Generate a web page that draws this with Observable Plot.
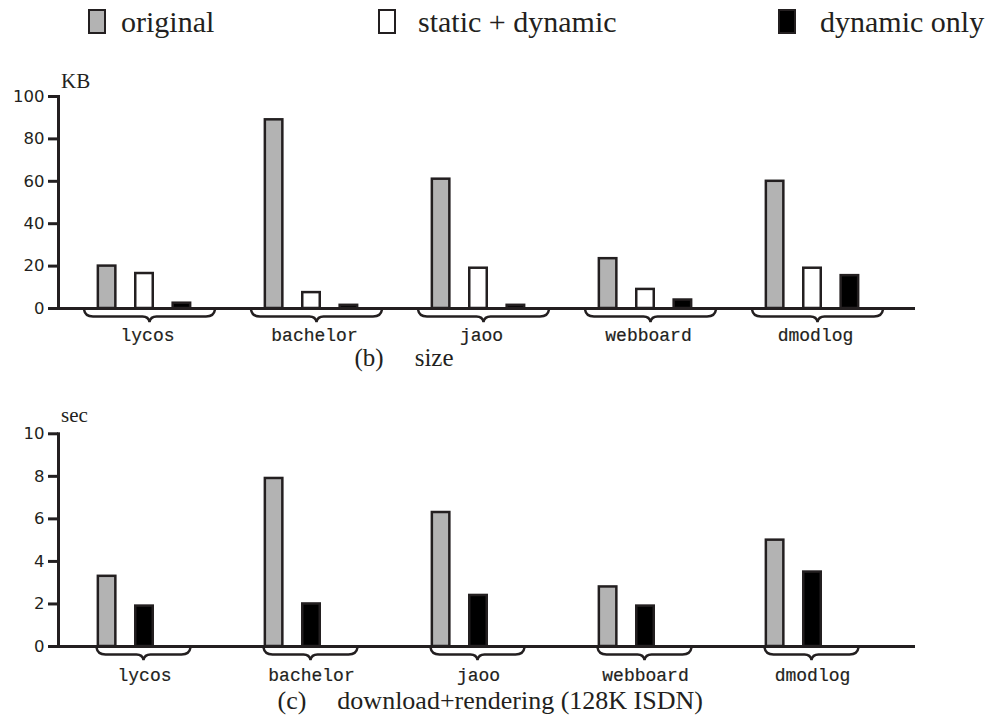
<!DOCTYPE html>
<html>
<head>
<meta charset="utf-8">
<script src="https://cdn.jsdelivr.net/npm/d3@7"></script>
<script src="https://cdn.jsdelivr.net/npm/@observablehq/plot@0.6"></script>
<style>
  html, body { margin: 0; padding: 0; background: #fff; }
  #wrap { position: relative; width: 993px; height: 715px; color: #231f20; }
  .abs { position: absolute; white-space: pre; line-height: 1; }
  .serif { font-family: "Liberation Serif", "DejaVu Serif", serif; }
  .box { position: absolute; width: 18px; height: 25px; box-sizing: border-box; border: 2px solid #231f20; }
  svg { position: absolute; left: 0; }
</style>
</head>
<body>
<div id="wrap"></div>
<script>
// ---- data ----
const groups = ["lycos", "bachelor", "jaoo", "webboard", "dmodlog"];
const seriesNames = ["original", "static + dynamic", "dynamic only"];
// (b) size, KB
const sizeOriginal      = [20, 89, 61, 23.5, 60];
const sizeStaticDynamic = [16.5, 7.5, 19, 9, 19];
const sizeDynamicOnly   = [2.5, 1.5, 1.5, 4, 15.5];
// (c) download+rendering (128K ISDN), sec
const timeOriginal    = [3.3, 7.9, 6.3, 2.8, 5.0];
const timeDynamicOnly = [1.9, 2.0, 2.4, 1.9, 3.5];
const sizeTicks = [0, 20, 40, 60, 80, 100];
const timeTicks = [0, 2, 4, 6, 8, 10];
const captions = ["(b)", "size", "(c)", "download+rendering (128K ISDN)"];
const unitLabels = ["KB", "sec"];

const INK = "#231f20";
const fills = {"original": "#b3b3b3", "static + dynamic": "#ffffff", "dynamic only": "#000000"};

const wrap = document.getElementById("wrap");

function rows(vals) { return groups.map((g, i) => ({group: g, value: vals[i]})); }

function braceSymbol(w) {
  return {
    draw(ctx) {
      const h = w / 2;
      ctx.moveTo(-h, 0);
      ctx.quadraticCurveTo(-h + 1, 7, -h + 9, 7);
      ctx.lineTo(-7, 7);
      ctx.quadraticCurveTo(-1, 7, 0, 12.5);
      ctx.quadraticCurveTo(1, 7, 7, 7);
      ctx.lineTo(h - 9, 7);
      ctx.quadraticCurveTo(h - 1, 7, h, 0);
    }
  };
}

function chart({series, yMax, ticks, height, marginTop, marginBottom, braceW, braceDx, labelDx, labelDy}) {
  const step = 37.4;
  const barMarks = series.map(([name, vals], k) =>
    Plot.barY(rows(vals), {
      x: "group", y: "value",
      fill: fills[name], stroke: INK, strokeWidth: 2.5,
      insetLeft: 1.25, insetRight: 1.25,
      dx: (k - 1) * step
    })
  );
  return Plot.plot({
    width: 993, height,
    marginTop, marginBottom, marginLeft: 58, marginRight: 78,
    style: {color: INK, background: "transparent", overflow: "visible"},
    x: {domain: groups, paddingInner: 0.8805, paddingOuter: 0.5, align: 0.448, axis: null},
    y: {domain: [0, yMax], axis: null},
    marks: [
      ...barMarks,
      Plot.ruleY([0], {stroke: INK, strokeWidth: 3}),
      Plot.frame({anchor: "left", stroke: INK, strokeWidth: 3}),
      Plot.axisY(ticks, {tickSize: 10, tickPadding: 4, stroke: INK, strokeWidth: 3,
        fontSize: 16.5, fontFamily: "DejaVu Sans", label: null}),
      Plot.dot(groups, {x: d => d, y: () => 0, symbol: braceSymbol(braceW), r: 5,
        fill: "none", stroke: INK, strokeWidth: 2.4, dx: braceDx, dy: 1}),
      Plot.text(groups, {x: d => d, y: () => 0, text: d => d, dx: labelDx, dy: labelDy,
        fontFamily: "Liberation Mono", fontSize: 18, fill: INK, stroke: INK, strokeWidth: 0.2})
    ]
  });
}

// legend
const legendX = [[88, 121], [378, 418], [778, 820]];
seriesNames.forEach((name, i) => {
  const b = document.createElement("div");
  b.className = "box";
  b.style.left = legendX[i][0] + "px";
  b.style.top = "9px";
  b.style.background = fills[name];
  wrap.appendChild(b);
  const t = document.createElement("div");
  t.className = "abs serif";
  t.style.left = legendX[i][1] + "px";
  t.style.top = "7px";
  t.style.fontSize = "30px";
  t.textContent = name;
  wrap.appendChild(t);
});

// top chart
const top1 = chart({
  series: [["original", sizeOriginal], ["static + dynamic", sizeStaticDynamic], ["dynamic only", sizeDynamicOnly]],
  yMax: 100, ticks: sizeTicks, height: 290, marginTop: 36, marginBottom: 42,
  braceW: 131, braceDx: 5, labelDx: 3, labelDy: 27
});
top1.style.top = "60px";
wrap.appendChild(top1);

// bottom chart
const bot = chart({
  series: [["original", timeOriginal], ["dynamic only", timeDynamicOnly]],
  yMax: 10, ticks: timeTicks, height: 285, marginTop: 33.3, marginBottom: 39,
  braceW: 94, braceDx: -1, labelDx: 0, labelDy: 29
});
bot.style.top = "400px";
wrap.appendChild(bot);

function addText(txt, left, top, size, cls) {
  const t = document.createElement("div");
  t.className = "abs " + (cls || "serif");
  t.style.left = left + "px";
  t.style.top = top + "px";
  t.style.fontSize = size + "px";
  t.textContent = txt;
  wrap.appendChild(t);
  return t;
}
addText(unitLabels[0], 61, 71, 21);
addText(unitLabels[1], 61, 405, 21);

function caption(a, b, centerX, top, size) {
  const t = document.createElement("div");
  t.className = "abs serif";
  t.style.top = top + "px";
  t.style.fontSize = size + "px";
  const s1 = document.createElement("span"); s1.textContent = a; s1.style.marginRight = "31px";
  const s2 = document.createElement("span"); s2.textContent = b;
  t.appendChild(s1); t.appendChild(s2);
  wrap.appendChild(t);
  t.style.left = (centerX - t.offsetWidth / 2) + "px";
}
caption(captions[0], captions[1], 404, 345, 25);
caption(captions[2], captions[3], 490, 688, 26);
</script>
</body>
</html>
